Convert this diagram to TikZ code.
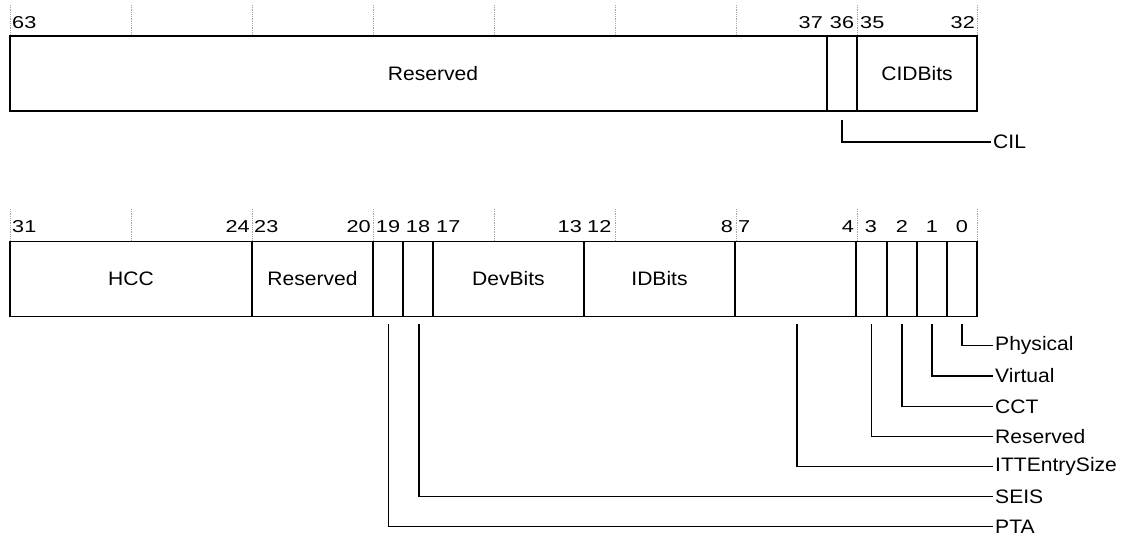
\documentclass[tikz,border=0pt]{standalone}
\usepackage{fontspec}
\setmainfont{Liberation Sans}
\newfontfamily\numfont[FakeStretch=1.26]{Liberation Sans}
\newfontfamily\labfont[FakeStretch=1.08]{Liberation Sans}
\begin{document}
\begin{tikzpicture}[x=1pt,y=-1pt,
  field/.style={draw,line width=1.8pt,minimum height=75pt,inner sep=0pt,outer sep=0pt,font=\labfont\fontsize{19.5}{23}\selectfont},
  num/.style={inner sep=0pt,font=\numfont\fontsize{17.2}{20}\selectfont},
  lab/.style={anchor=west,inner sep=2pt,font=\labfont\fontsize{19.5}{22}\selectfont},
  conn/.style={line width=1.2pt},
  tick/.style={densely dotted,gray!70,line width=0.8pt}]
\useasboundingbox (0,0) rectangle (1135,536);
% ---- ticks
\foreach \x in {10,131,252,373,494,615,736,857,977}{
  \draw[tick] (\x,5) -- (\x,36);
  \draw[tick] (\x,209) -- (\x,241);
}
% ---- top row (63..32)
\node[field,minimum width=817pt] (res1) at (418.5,73.5) {};
\node[field,minimum width=30pt] (b36) at (842,73.5) {};
\node[field,minimum width=120pt] (cid) at (917,73.5) {CIDBits};
\node[font=\labfont\fontsize{19.5}{23}\selectfont] (res1t) at (433,73.5) {Reserved};
% numbers top
\node[num,anchor=base west] (n63) at (12,28) {63};
\node[num,anchor=base east] (n37) at (823,28) {37};
\node[num,anchor=base] (n36) at (842,28) {36};
\node[num,anchor=base west] (n35) at (860,28) {35};
\node[num,anchor=base east] (n32) at (975,28) {32};
% CIL
\coordinate (s36) at (842,120);
\node[lab] (lcil) at (991,142) {CIL};
\draw[conn] (s36) |- (lcil.west);
% ---- lower row (31..0)
\node[field,minimum width=242pt] (hcc) at (131,279) {HCC};
\node[field,minimum width=121pt] (res2) at (312.5,279) {Reserved};
\node[field,minimum width=30pt] (b19) at (388,279) {};
\node[field,minimum width=30pt] (b18) at (418,279) {};
\node[field,minimum width=151pt] (dev) at (508.5,279) {DevBits};
\node[field,minimum width=151pt] (idb) at (659.5,279) {IDBits};
\node[field,minimum width=121pt] (itt) at (795.5,279) {};
\node[field,minimum width=30.5pt] (b3) at (871.25,279) {};
\node[field,minimum width=30pt] (b2) at (902,279) {};
\node[field,minimum width=30pt] (b1) at (932,279) {};
\node[field,minimum width=30pt] (b0) at (962,279) {};
% numbers lower
\node[num,anchor=base west] (n31) at (12,232) {31};
\node[num,anchor=base east] (n24) at (250,232) {24};
\node[num,anchor=base west] (n23) at (254,232) {23};
\node[num,anchor=base east] (n20) at (371,232) {20};
\node[num,anchor=base] (n19) at (388,232) {19};
\node[num,anchor=base] (n18) at (418,232) {18};
\node[num,anchor=base west] (n17) at (436,232) {17};
\node[num,anchor=base east] (n13) at (582,232) {13};
\node[num,anchor=base west] (n12) at (587,232) {12};
\node[num,anchor=base east] (n8) at (733,232) {8};
\node[num,anchor=base west] (n7) at (738,232) {7};
\node[num,anchor=base east] (n4) at (854,232) {4};
\node[num,anchor=base] (n3) at (871,232) {3};
\node[num,anchor=base] (n2) at (902,232) {2};
\node[num,anchor=base] (n1) at (932,232) {1};
\node[num,anchor=base] (n0) at (962,232) {0};
% labels lower
\node[lab] (lphys) at (993,345.5) {Physical};
\node[lab] (lvirt) at (993,376) {Virtual};
\node[lab] (lcct) at (993,406.5) {CCT};
\node[lab] (lres) at (993,436.5) {Reserved};
\node[lab] (litt) at (993,466.5) {ITTEntrySize};
\node[lab] (lseis) at (993,496.5) {SEIS};
\node[lab] (lpta) at (993,526.5) {PTA};
% connectors
\coordinate (s0) at (962,324);
\coordinate (s1) at (932,324);
\coordinate (s2) at (902,324);
\coordinate (s3) at (871.5,324);
\coordinate (s4) at (797,324);
\coordinate (s18) at (419,324);
\coordinate (s19) at (388.5,324);
\draw[conn] (s0) |- (lphys.west);
\draw[conn] (s1) |- (lvirt.west);
\draw[conn] (s2) |- (lcct.west);
\draw[conn] (s3) |- (lres.west);
\draw[conn] (s4) |- (litt.west);
\draw[conn] (s18) |- (lseis.west);
\draw[conn] (s19) |- (lpta.west);
\end{tikzpicture}
\end{document}
